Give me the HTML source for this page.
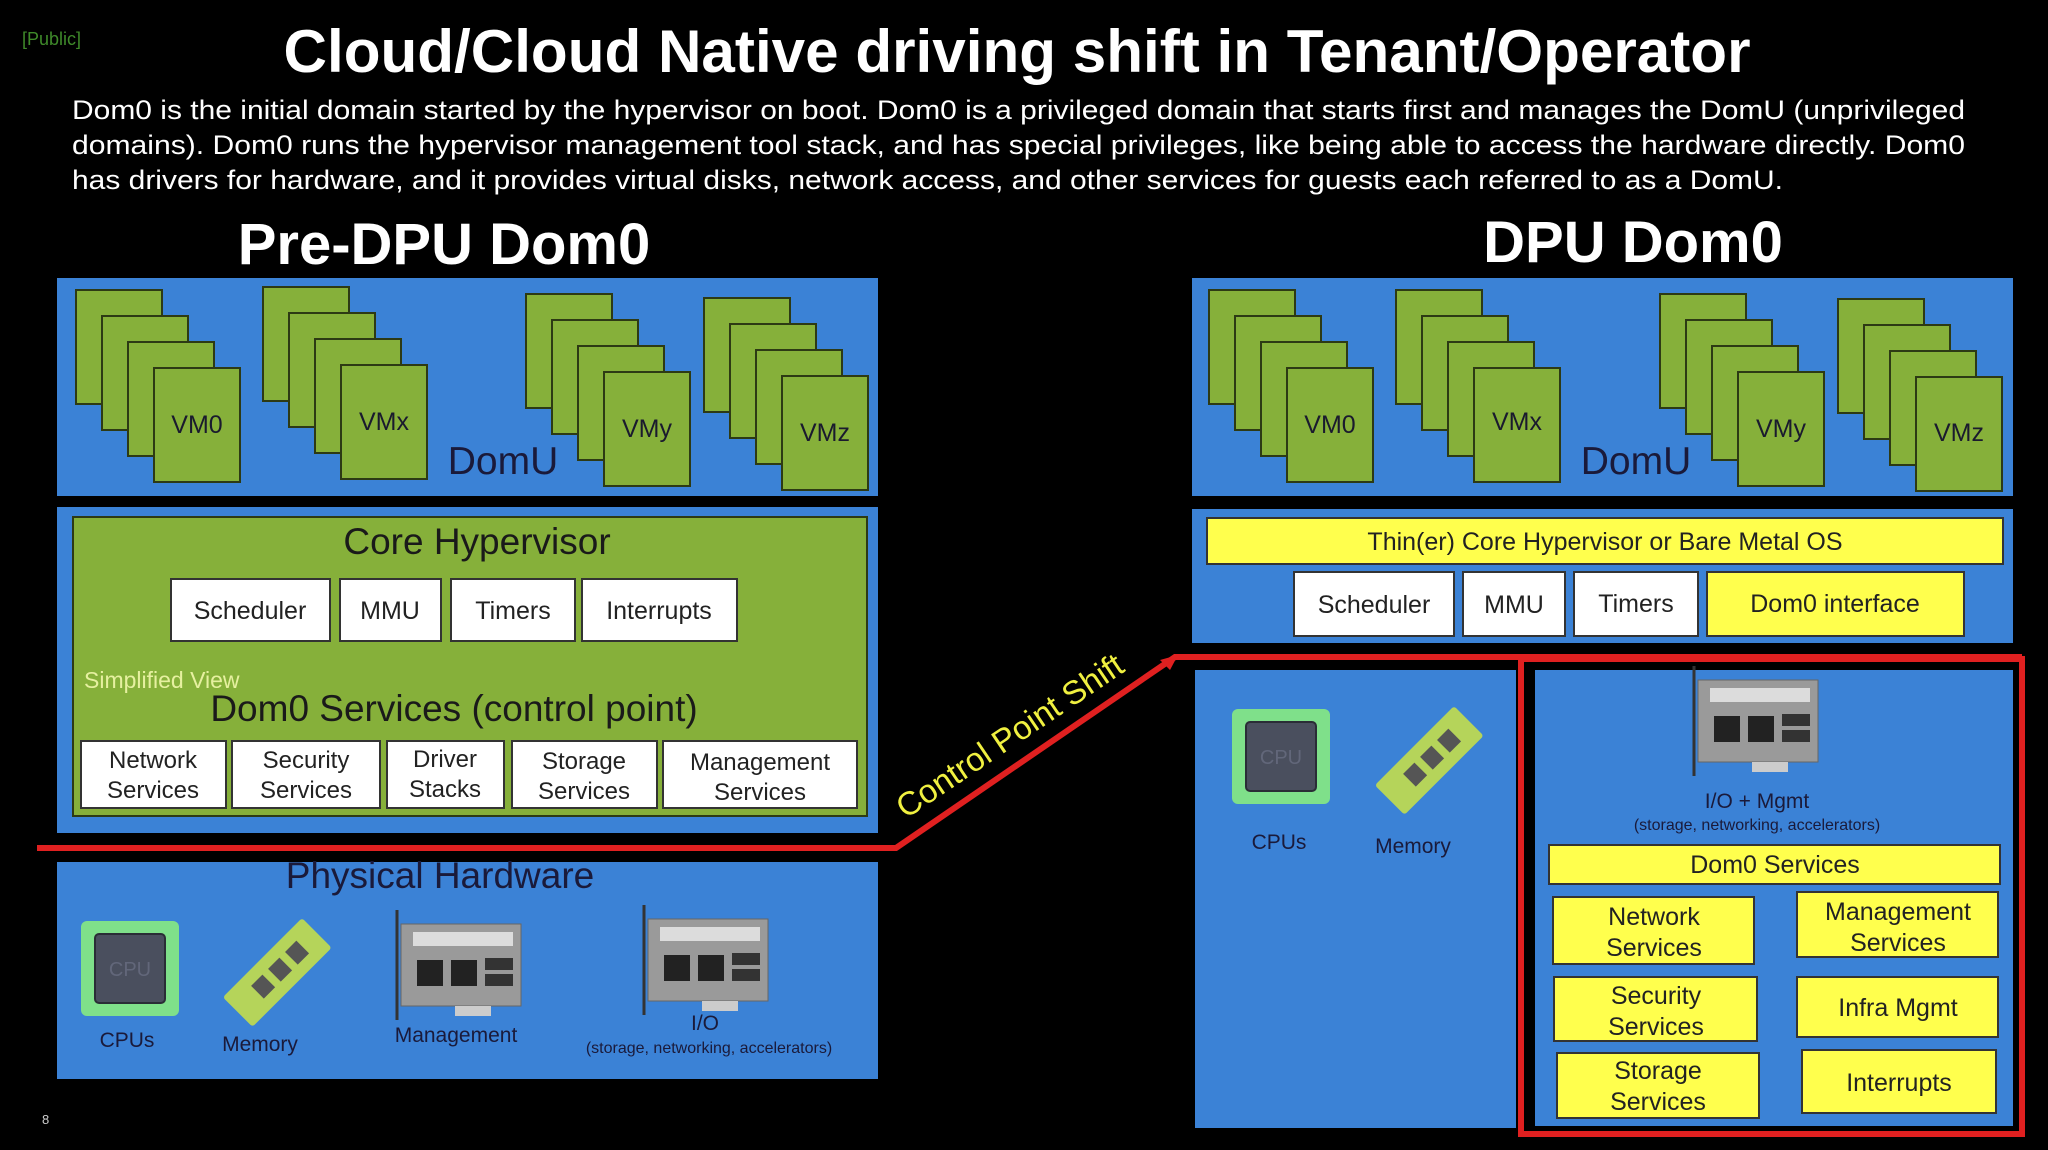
<!DOCTYPE html>
<html><head><meta charset="utf-8"><style>
html,body{margin:0;padding:0;background:#000;}
svg{display:block}
text{font-family:"Liberation Sans Narrow","Liberation Sans",Arial,sans-serif;}
</style></head><body>
<svg width="2048" height="1150" viewBox="0 0 2048 1150" xmlns="http://www.w3.org/2000/svg">
<defs>
<g id="stack">
 <rect x="0" y="0" width="86" height="114" fill="#86b03a" stroke="#2d3a14" stroke-width="2"/>
 <rect x="26" y="26" width="86" height="114" fill="#86b03a" stroke="#2d3a14" stroke-width="2"/>
 <rect x="52" y="52" width="86" height="114" fill="#86b03a" stroke="#2d3a14" stroke-width="2"/>
 <rect x="78" y="78" width="86" height="114" fill="#86b03a" stroke="#2d3a14" stroke-width="2"/>
</g>
<g id="cpu">
 <rect x="0" y="0" width="98" height="95" rx="6" fill="#7fe08a"/>
 <rect x="14" y="13" width="70" height="69" rx="4" fill="#4a4f5e" stroke="#2a2d36" stroke-width="2"/>
 <text x="49" y="55" font-size="20" fill="#62677a" text-anchor="middle">CPU</text>
</g>
<g id="mem">
 <rect x="0" y="0" width="42" height="112" rx="3" fill="#b5d45a" transform="translate(70,0) rotate(45)"/>
 <rect x="12" y="20" width="18" height="16" fill="#555" transform="translate(70,0) rotate(45)"/>
 <rect x="12" y="44" width="18" height="16" fill="#555" transform="translate(70,0) rotate(45)"/>
 <rect x="12" y="68" width="18" height="16" fill="#555" transform="translate(70,0) rotate(45)"/>
</g>
<g id="card">
 <line x1="4" y1="0" x2="4" y2="110" stroke="#333" stroke-width="3"/>
 <rect x="8" y="14" width="120" height="82" fill="#9a9a9a" stroke="#666" stroke-width="1"/>
 <rect x="20" y="22" width="100" height="14" fill="#dcdcdc"/>
 <rect x="24" y="50" width="26" height="26" fill="#222"/>
 <rect x="58" y="50" width="26" height="26" fill="#222"/>
 <rect x="92" y="48" width="28" height="12" fill="#333"/>
 <rect x="92" y="64" width="28" height="12" fill="#333"/>
 <rect x="62" y="96" width="36" height="10" fill="#ccc"/>
</g>
</defs>
<rect width="2048" height="1150" fill="#000"/>

<text x="22" y="45" font-size="18" fill="#3f8a2a">[Public]</text>
<text x="1017" y="72" font-size="60" font-weight="bold" fill="#fff" text-anchor="middle" textLength="1467" lengthAdjust="spacingAndGlyphs">Cloud/Cloud Native driving shift in Tenant/Operator</text>
<g font-size="27" fill="#fff">
<text x="72" y="119" textLength="1893" lengthAdjust="spacingAndGlyphs">Dom0 is the initial domain started by the hypervisor on boot. Dom0 is a privileged domain that starts first and manages the DomU (unprivileged</text>
<text x="72" y="154" textLength="1893" lengthAdjust="spacingAndGlyphs">domains). Dom0 runs the hypervisor management tool stack, and has special privileges, like being able to access the hardware directly.  Dom0</text>
<text x="72" y="189" textLength="1711" lengthAdjust="spacingAndGlyphs">has drivers for hardware, and it provides virtual disks, network access, and other services for guests each referred to as a DomU.</text>
</g>
<text x="444" y="264" font-size="58" font-weight="bold" fill="#fff" text-anchor="middle">Pre-DPU Dom0</text>
<text x="1633" y="262" font-size="58" font-weight="bold" fill="#fff" text-anchor="middle">DPU Dom0</text>

<!-- LEFT DomU -->
<rect x="57" y="278" width="821" height="218" fill="#3b82d6"/>
<use href="#stack" x="76" y="290"/>
<use href="#stack" x="263" y="287"/>
<use href="#stack" x="526" y="294"/>
<use href="#stack" x="704" y="298"/>
<g font-size="25" fill="#1a1a2e" text-anchor="middle">
<text x="197" y="433">VM0</text><text x="384" y="430">VMx</text><text x="647" y="437">VMy</text><text x="825" y="441">VMz</text>
</g>
<text x="503" y="474" font-size="39" fill="#1a1a3a" text-anchor="middle">DomU</text>

<!-- LEFT hypervisor -->
<rect x="57" y="507" width="821" height="326" fill="#3b82d6"/>
<rect x="73" y="517" width="794" height="299" fill="#86b03a" stroke="#2d3a14" stroke-width="2"/>
<text x="477" y="554" font-size="37" fill="#1a1a1a" text-anchor="middle">Core Hypervisor</text>
<g fill="#fff" stroke="#333" stroke-width="2">
<rect x="171" y="579" width="159" height="62"/><rect x="340" y="579" width="101" height="62"/><rect x="451" y="579" width="124" height="62"/><rect x="582" y="579" width="155" height="62"/>
</g>
<g font-size="25" fill="#222" text-anchor="middle">
<text x="250" y="619">Scheduler</text><text x="390" y="619">MMU</text><text x="513" y="619">Timers</text><text x="659" y="619">Interrupts</text>
</g>
<text x="84" y="688" font-size="23" fill="#e6f0a0">Simplified View</text>
<text x="454" y="721" font-size="37" fill="#1a1a1a" text-anchor="middle">Dom0 Services (control point)</text>
<g fill="#fff" stroke="#333" stroke-width="2">
<rect x="81" y="741" width="145" height="67"/><rect x="232" y="741" width="148" height="67"/><rect x="387" y="741" width="117" height="67"/><rect x="512" y="741" width="145" height="67"/><rect x="663" y="741" width="194" height="67"/>
</g>
<g font-size="24" fill="#222" text-anchor="middle">
<text x="153" y="768">Network</text><text x="153" y="798">Services</text>
<text x="306" y="768">Security</text><text x="306" y="798">Services</text>
<text x="445" y="767">Driver</text><text x="445" y="797">Stacks</text>
<text x="584" y="769">Storage</text><text x="584" y="799">Services</text>
<text x="760" y="770">Management</text><text x="760" y="800">Services</text>
</g>

<!-- LEFT Physical -->
<rect x="57" y="862" width="821" height="217" fill="#3b82d6"/>
<text x="440" y="888" font-size="37" fill="#1a1a3a" text-anchor="middle">Physical Hardware</text>
<use href="#cpu" x="81" y="921"/>
<use href="#mem" x="232" y="918"/>
<use href="#card" x="393" y="910"/>
<use href="#card" x="640" y="905"/>
<g font-size="21" fill="#1a1a3a" text-anchor="middle">
<text x="127" y="1047">CPUs</text><text x="260" y="1051">Memory</text><text x="456" y="1042">Management</text><text x="705" y="1030">I/O</text>
</g>
<text x="709" y="1053" font-size="16" fill="#1a1a3a" text-anchor="middle">(storage, networking, accelerators)</text>
<text x="42" y="1124" font-size="13" fill="#ccc">8</text>

<!-- RIGHT DomU -->
<rect x="1192" y="278" width="821" height="218" fill="#3b82d6"/>
<use href="#stack" x="1209" y="290"/>
<use href="#stack" x="1396" y="290"/>
<use href="#stack" x="1660" y="294"/>
<use href="#stack" x="1838" y="299"/>
<g font-size="25" fill="#1a1a2e" text-anchor="middle">
<text x="1330" y="433">VM0</text><text x="1517" y="430">VMx</text><text x="1781" y="437">VMy</text><text x="1959" y="441">VMz</text>
</g>
<text x="1636" y="474" font-size="39" fill="#1a1a3a" text-anchor="middle">DomU</text>

<!-- RIGHT hypervisor -->
<rect x="1192" y="509" width="821" height="134" fill="#3b82d6"/>
<rect x="1207" y="518" width="796" height="46" fill="#ffff4d" stroke="#333" stroke-width="2"/>
<text x="1605" y="550" font-size="25" fill="#222" text-anchor="middle">Thin(er) Core Hypervisor or Bare Metal OS</text>
<g stroke="#333" stroke-width="2">
<rect x="1294" y="572" width="160" height="64" fill="#fff"/><rect x="1463" y="572" width="102" height="64" fill="#fff"/><rect x="1574" y="572" width="124" height="64" fill="#fff"/><rect x="1707" y="572" width="257" height="64" fill="#ffff4d"/>
</g>
<g font-size="25" fill="#222" text-anchor="middle">
<text x="1374" y="613">Scheduler</text><text x="1514" y="613">MMU</text><text x="1636" y="612">Timers</text><text x="1835" y="612">Dom0 interface</text>
</g>

<!-- RIGHT lower -->
<rect x="1195" y="670" width="321" height="458" fill="#3b82d6"/>
<rect x="1535" y="670" width="478" height="456" fill="#3b82d6"/>
<use href="#cpu" x="1232" y="709"/>
<use href="#mem" x="1384" y="706"/>
<g font-size="21" fill="#1a1a3a" text-anchor="middle"><text x="1279" y="849">CPUs</text><text x="1413" y="853">Memory</text></g>
<use href="#card" x="1690" y="666" transform=""/>
<text x="1757" y="808" font-size="21" fill="#1a1a3a" text-anchor="middle">I/O + Mgmt</text>
<text x="1757" y="830" font-size="16" fill="#1a1a3a" text-anchor="middle">(storage, networking, accelerators)</text>
<g fill="#ffff4d" stroke="#333" stroke-width="2">
<rect x="1549" y="845" width="451" height="39"/>
<rect x="1553" y="897" width="201" height="67"/><rect x="1797" y="892" width="201" height="65"/>
<rect x="1554" y="977" width="203" height="64"/><rect x="1797" y="977" width="201" height="60"/>
<rect x="1557" y="1053" width="202" height="65"/><rect x="1802" y="1050" width="194" height="63"/>
</g>
<g font-size="25" fill="#222" text-anchor="middle">
<text x="1775" y="873">Dom0 Services</text>
<text x="1654" y="925">Network</text><text x="1654" y="956">Services</text>
<text x="1898" y="920">Management</text><text x="1898" y="951">Services</text>
<text x="1656" y="1004">Security</text><text x="1656" y="1035">Services</text>
<text x="1898" y="1016">Infra Mgmt</text>
<text x="1658" y="1079">Storage</text><text x="1658" y="1110">Services</text>
<text x="1899" y="1091">Interrupts</text>
</g>

<!-- Red control point line -->
<g stroke="#e02020" stroke-width="6" fill="none" stroke-linejoin="miter">
<polyline points="37,848 896,848 1175,657 2022,657"/>
<rect x="1521" y="659" width="501" height="475"/>
</g>
<polygon points="1178,655 1160,660 1170,670" fill="#e02020"/>
<text x="1016" y="745" font-size="33" fill="#f0f040" text-anchor="middle" transform="rotate(-34 1016 745)">Control Point Shift</text>
</svg>
</body></html>
